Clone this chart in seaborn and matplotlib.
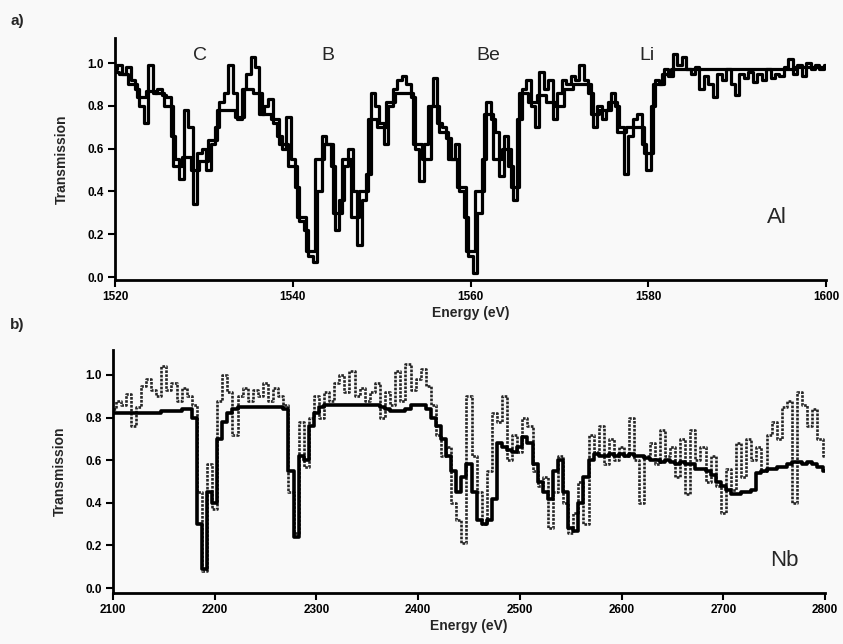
import numpy as np
import pandas as pd
import matplotlib
matplotlib.use("Agg")
import matplotlib.pyplot as plt
import seaborn as sns

# ---- panel a: Al, 1520-1600 eV ----
AL_START = 1520.0
# smoother trace, 1 eV sampling
al_calc = [
    0.96, 0.95, 0.90, 0.84, 0.87, 0.86, 0.80, 0.52, 0.56, 0.50,
    0.54, 0.64, 0.78, 0.78, 0.75, 0.88, 0.86, 0.76, 0.74, 0.62,
    0.52, 0.28, 0.12, 0.55, 0.62, 0.30, 0.55, 0.28, 0.40, 0.74,
    0.70, 0.82, 0.86, 0.86, 0.62, 0.55, 0.80, 0.68, 0.55, 0.42,
    0.12, 0.40, 0.76, 0.55, 0.60, 0.42, 0.86, 0.82, 0.85, 0.82,
    0.80, 0.88, 0.90, 0.90, 0.76, 0.78, 0.82, 0.68, 0.70, 0.70,
    0.58, 0.90, 0.95, 0.97, 0.97, 0.97, 0.97, 0.97, 0.97, 0.97,
    0.97, 0.97, 0.97, 0.97, 0.97, 0.97, 0.97, 0.98, 0.98, 0.98,
    0.98,
]
# measured trace, 0.5 eV sampling
al_meas = [
    0.97, 0.99, 0.95, 0.98, 0.92, 0.88, 0.80, 0.72, 0.99, 0.86,
    0.88, 0.85, 0.84, 0.66, 0.55, 0.46, 0.78, 0.70, 0.34, 0.58,
    0.60, 0.50, 0.62, 0.70, 0.82, 0.86, 0.99, 0.86, 0.74, 0.88,
    0.95, 1.03, 0.98, 0.76, 0.80, 0.83, 0.72, 0.66, 0.60, 0.75,
    0.55, 0.42, 0.26, 0.22, 0.10, 0.07, 0.40, 0.66, 0.62, 0.52,
    0.22, 0.36, 0.52, 0.60, 0.40, 0.15, 0.36, 0.48, 0.86, 0.80,
    0.72, 0.62, 0.80, 0.88, 0.92, 0.94, 0.90, 0.84, 0.60, 0.45,
    0.62, 0.80, 0.93, 0.72, 0.70, 0.65, 0.55, 0.62, 0.40, 0.28,
    0.10, 0.02, 0.30, 0.55, 0.82, 0.74, 0.68, 0.47, 0.66, 0.52,
    0.36, 0.74, 0.88, 0.92, 0.80, 0.70, 0.96, 0.88, 0.92, 0.74,
    0.86, 0.92, 0.90, 0.94, 0.92, 0.99, 0.92, 0.86, 0.70, 0.80,
    0.74, 0.78, 0.86, 0.80, 0.70, 0.48, 0.66, 0.74, 0.76, 0.62,
    0.50, 0.80, 0.92, 0.90, 0.97, 0.94, 1.04, 0.99, 1.03, 0.97,
    0.95, 0.98, 0.88, 0.94, 0.90, 0.84, 0.95, 0.92, 0.97, 0.90,
    0.85, 0.95, 0.93, 0.96, 0.91, 0.95, 0.92, 0.97, 0.93, 0.95,
    0.94, 0.98, 1.02, 0.95, 0.99, 0.94, 1.00, 0.97, 0.99, 0.97,
    0.99,
]
al_labels = ["C", "B", "Be", "Li"]
al_label_pos = [1529.6, 1544.0, 1562.0, 1579.8]

# ---- panel b: Nb, 2100-2800 eV, 5 eV sampling ----
NB_START = 2100.0
nb_calc = [
    0.82, 0.82, 0.82, 0.82, 0.82, 0.82, 0.82, 0.82, 0.82, 0.82,
    0.83, 0.83, 0.83, 0.83, 0.84, 0.84, 0.80, 0.30, 0.09, 0.45,
    0.40, 0.70, 0.78, 0.82, 0.84, 0.85, 0.85, 0.85, 0.85, 0.85,
    0.85, 0.85, 0.85, 0.85, 0.84, 0.55, 0.24, 0.62, 0.60, 0.76,
    0.82, 0.85, 0.86, 0.86, 0.86, 0.86, 0.86, 0.86, 0.86, 0.86,
    0.86, 0.86, 0.86, 0.85, 0.84, 0.83, 0.83, 0.83, 0.84, 0.86,
    0.86, 0.86, 0.84, 0.80, 0.76, 0.70, 0.62, 0.55, 0.45, 0.52,
    0.58, 0.45, 0.32, 0.30, 0.32, 0.42, 0.68, 0.66, 0.65, 0.64,
    0.66, 0.71, 0.68, 0.58, 0.50, 0.45, 0.42, 0.55, 0.60, 0.45,
    0.28, 0.27, 0.40, 0.52, 0.60, 0.63, 0.62, 0.62, 0.63, 0.62,
    0.63, 0.62, 0.63, 0.62, 0.62, 0.61, 0.60, 0.60, 0.59, 0.60,
    0.59, 0.58, 0.59, 0.58, 0.58, 0.56, 0.56, 0.55, 0.53, 0.50,
    0.48, 0.46, 0.44, 0.44, 0.45, 0.45, 0.46, 0.54, 0.55, 0.56,
    0.56, 0.57, 0.57, 0.58, 0.59, 0.59, 0.58, 0.59, 0.58, 0.57,
    0.55,
]
nb_meas = [
    0.84, 0.88, 0.86, 0.91, 0.76, 0.85, 0.95, 0.98, 0.93, 0.90,
    1.04, 0.93, 0.96, 0.88, 0.94, 0.90, 0.86, 0.45, 0.08, 0.58,
    0.37, 0.88, 1.00, 0.92, 0.72, 0.90, 0.94, 0.88, 0.93, 0.90,
    0.96, 0.88, 0.94, 0.90, 0.86, 0.45, 0.26, 0.78, 0.57, 0.80,
    0.90, 0.80, 0.92, 0.88, 0.96, 1.00, 0.92, 1.02, 0.90, 0.94,
    0.88, 0.92, 0.96, 0.80, 0.92, 0.86, 1.02, 0.88, 1.05, 0.93,
    0.98, 1.03, 0.95, 0.86, 0.72, 0.62, 0.66, 0.40, 0.32, 0.21,
    0.90, 0.62, 0.45, 0.30, 0.55, 0.82, 0.78, 0.90, 0.60, 0.72,
    0.64, 0.80, 0.76, 0.55, 0.48, 0.52, 0.28, 0.45, 0.62, 0.40,
    0.26, 0.35, 0.50, 0.30, 0.72, 0.64, 0.76, 0.58, 0.70, 0.60,
    0.66, 0.62, 0.80, 0.60, 0.40, 0.62, 0.68, 0.58, 0.74, 0.62,
    0.66, 0.52, 0.70, 0.44, 0.74, 0.60, 0.66, 0.50, 0.62, 0.48,
    0.35, 0.56, 0.46, 0.68, 0.52, 0.70, 0.60, 0.66, 0.55, 0.72,
    0.78, 0.70, 0.85, 0.88, 0.40, 0.92, 0.86, 0.76, 0.84, 0.70,
    0.62,
]

yticks = [0.0, 0.2, 0.4, 0.6, 0.8, 1.0]
al_xticks = [1520, 1540, 1560, 1580, 1600]
nb_xticks = [2100, 2200, 2300, 2400, 2500, 2600, 2700, 2800]


def trace_frame(values, start, step):
    values = np.asarray(values, dtype=float)
    return pd.DataFrame({"energy": start + step * np.arange(len(values)), "T": values})


sns.set_theme(style="ticks")
plt.rcParams["font.family"] = ["Liberation Sans", "DejaVu Sans"]
BG = "#f9f9f9"

fig = plt.figure(figsize=(8.43, 6.44), dpi=100, facecolor=BG)
ax_a = fig.add_axes([0.1364, 0.5652, 0.8435, 0.3758], facecolor=BG)
ax_b = fig.add_axes([0.1340, 0.0792, 0.8447, 0.3773], facecolor=BG)

sns.lineplot(data=trace_frame(al_meas, AL_START, 0.5), x="energy", y="T", ax=ax_a,
             color="black", linewidth=2.3, estimator=None, drawstyle="steps-mid")
sns.lineplot(data=trace_frame(al_calc, AL_START, 1.0), x="energy", y="T", ax=ax_a,
             color="black", linewidth=2.3, estimator=None, drawstyle="steps-mid")

sns.lineplot(data=trace_frame(nb_meas, NB_START, 5.0), x="energy", y="T", ax=ax_b,
             color="#262626", linewidth=1.9, linestyle=(0, (1, 0.5)), estimator=None,
             drawstyle="steps-mid")
sns.lineplot(data=trace_frame(nb_calc, NB_START, 5.0), x="energy", y="T", ax=ax_b,
             color="black", linewidth=2.6, estimator=None, drawstyle="steps-mid")

for ax, xt, xlim, ylim in [
    (ax_a, al_xticks, (1520, 1600), (-0.014, 1.117)),
    (ax_b, nb_xticks, (2100, 2800), (-0.023, 1.117)),
]:
    ax.set_xlim(*xlim)
    ax.set_ylim(*ylim)
    ax.set_xticks(xt)
    ax.set_yticks(yticks)
    ax.set_yticklabels([f"{v:.1f}" for v in yticks])
    ax.set_xlabel("Energy (eV)", fontsize=10, fontweight="bold", labelpad=2)
    ax.set_ylabel("Transmission", fontsize=10, fontweight="bold", labelpad=13)
    for side in ("top", "right"):
        ax.spines[side].set_visible(False)
    for side in ("left", "bottom"):
        ax.spines[side].set_linewidth(2.0)
        ax.spines[side].set_color("black")
    ax.tick_params(axis="both", direction="out", length=5, width=1.5,
                   labelsize=8.5, colors="black", pad=3)
    for lab in ax.get_xticklabels() + ax.get_yticklabels():
        lab.set_fontweight("bold")
    ax.grid(False)

for name, xpos in zip(al_labels, al_label_pos):
    ax_a.text(xpos, 1.035, name, fontsize=14, ha="center", va="center")
ax_a.text(1594.5, 0.28, "Al", fontsize=16, ha="center", va="center")
ax_b.text(2760, 0.13, "Nb", fontsize=16, ha="center", va="center")

fig.text(0.012, 0.968, "a)", fontsize=11, fontweight="bold", va="center")
fig.text(0.012, 0.495, "b)", fontsize=11, fontweight="bold", va="center")

fig.savefig("out.png", dpi=100, facecolor=BG)
